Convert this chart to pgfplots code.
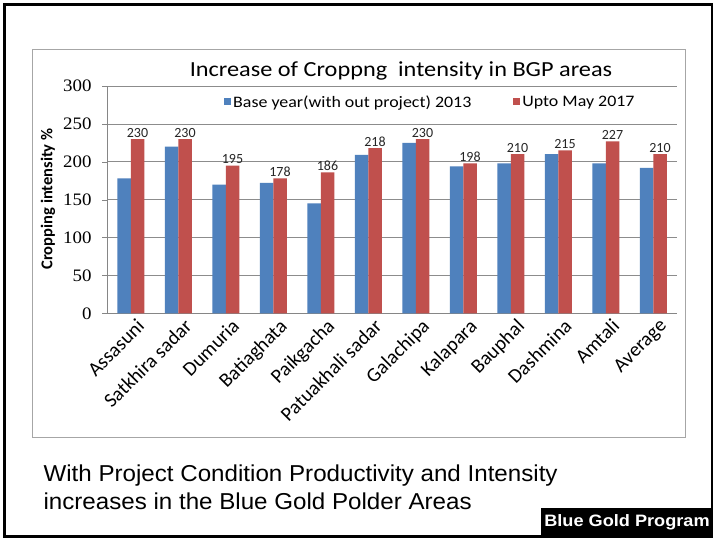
\documentclass[border=0pt]{standalone}
\usepackage{pgfplots}
\pgfplotsset{compat=1.18}
\usepackage{fontspec}
\setmainfont{Carlito}
\newfontfamily\titlefont[FakeStretch=1.13]{Carlito}
\newfontfamily\legfont[FakeStretch=1.12]{Carlito}
\newfontfamily\serifnum[FakeStretch=1.08]{Liberation Serif}
\newfontfamily\arial[FakeStretch=1.05]{Liberation Sans}
\newfontfamily\arialbox[FakeStretch=1.1]{Liberation Sans}
\definecolor{barblue}{HTML}{4F81BD}
\definecolor{barred}{HTML}{C0504D}
\definecolor{axgray}{HTML}{868686}
\definecolor{gridgray}{HTML}{8C8C8C}
\begin{document}
\begin{tikzpicture}[x=1bp,y=1bp]
\path[fill=white] (0,0) rectangle (718,-540);
\draw[line width=2.8bp] (4.4,-4.4) rectangle (712,-536.5);
\draw[gray!70, line width=0.8bp] (32,-49) rectangle (685.5,-437);
\node[anchor=base, font=\titlefont\fontsize{21.5bp}{24bp}\selectfont] at (401,-77) {Increase of Croppng\ \ intensity in BGP areas};
\node[rotate=90, font=\bfseries\fontsize{16.5bp}{18bp}\selectfont] at (48,-199) {Cropping intensity \%};
\begin{axis}[
  at={(107bp,-313.3bp)}, anchor=south west,
  width=570bp, height=227.3bp, scale only axis,
  ymin=0, ymax=300, ytick={0,50,...,300},
  xmin=-0.5, xmax=11.5,
  xtick={0,...,11},
  xticklabels={Assasuni,Satkhira sadar,Dumuria,Batiaghata,Paikgacha,Patuakhali sadar,Galachipa,Kalapara,Bauphal,Dashmina,Amtali,Average},
  x tick label style={rotate=45, anchor=north east, font=\fontsize{20bp}{22bp}\selectfont, inner sep=1bp, xshift=5bp, yshift=-2bp},
  y tick label style={font=\serifnum\fontsize{17.5bp}{19bp}\selectfont, xshift=-7bp},
  /pgf/number format/assume math mode=true,
  xtick style={draw=none},
  extra x ticks={-0.5,0.5,...,11.5},
  extra x tick labels={},
  extra x tick style={major tick length=5bp, tick style={draw=axgray}, grid=none},
  tick align=outside,
  major tick length=5bp,
  ytick style={draw=axgray},
  axis x line*=bottom, axis y line*=left,
  axis line style={draw=axgray, -},
  ymajorgrids, grid style={draw=gridgray, line width=0.6bp},
  ybar=0pt, bar width=13.5bp,
  legend style={at={(0.2053,0.93)}, anchor=west, draw=none, fill=none,
    legend columns=2, font=\legfont\fontsize{16bp}{18bp}\selectfont, inner sep=0pt,
    /tikz/every even column/.append style={column sep=40bp}},
  legend cell align=left,
]
\addplot[fill=barblue, draw=none, legend image code/.code={\fill[barblue] (0bp,-3.5bp) rectangle (7bp,3.5bp);}] coordinates {
(0,178) (1,220) (2,170) (3,172) (4,145) (5,209) (6,225) (7,194) (8,198) (9,210) (10,198) (11,192)};
\addlegendentry{Base year(with out project) 2013}
\addplot[fill=barred, draw=none, nodes near coords,
  nodes near coords style={font=\fontsize{14bp}{15bp}\selectfont, text=black!85, inner sep=1.5bp},
  legend image code/.code={\fill[barred] (0bp,-3.5bp) rectangle (7bp,3.5bp);}] coordinates {
(0,230) (1,230) (2,195) (3,178) (4,186) (5,218) (6,230) (7,198) (8,210) (9,215) (10,227) (11,210)};
\addlegendentry{Upto May 2017}
\end{axis}
\node[anchor=base west, font=\arial\fontsize{23bp}{26bp}\selectfont] at (40,-481.5) {With Project Condition Productivity and Intensity};
\node[anchor=base west, font=\arial\fontsize{23bp}{26bp}\selectfont] at (40,-509) {increases in the Blue Gold Polder Areas};
\fill[black] (541,-508) rectangle (712,-536.5);
\node[text=white, font=\arialbox\bfseries\fontsize{16.5bp}{18bp}\selectfont] at (627,-522.5) {Blue Gold Program};
\end{tikzpicture}
\end{document}
